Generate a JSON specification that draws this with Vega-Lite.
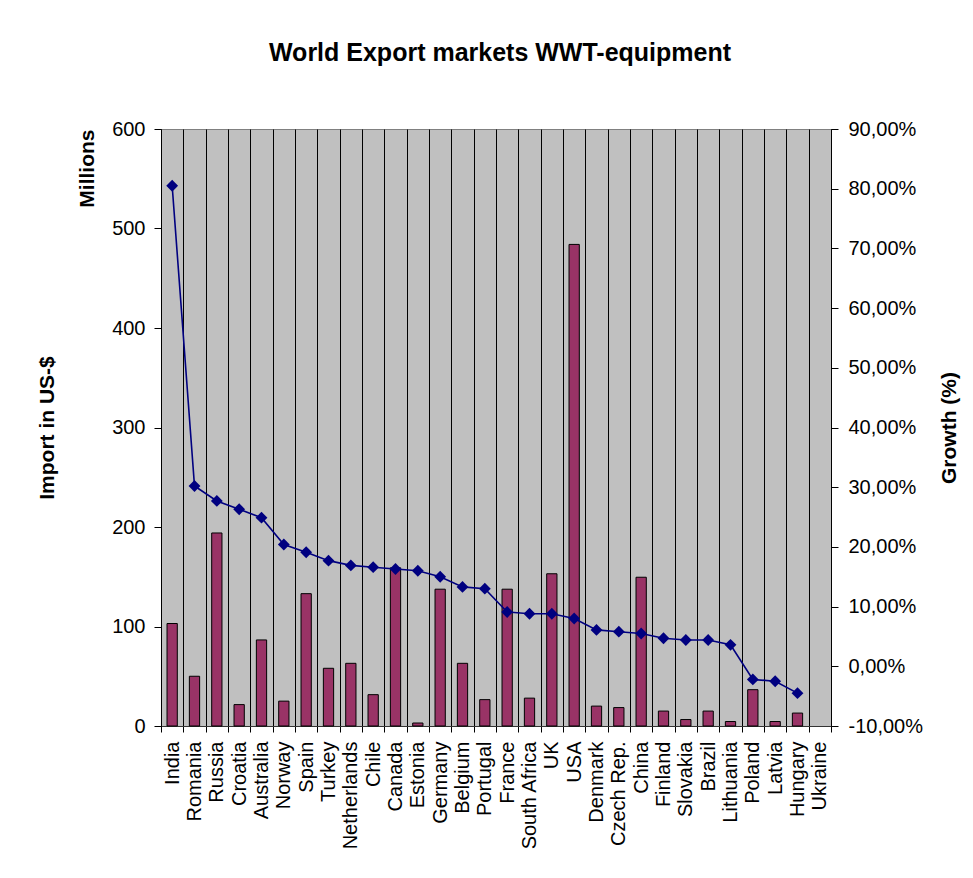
{
  "$schema": "https://vega.github.io/schema/vega-lite/v6.json",
  "width": 670,
  "height": 597,
  "autosize": "none",
  "padding": {"left": 161, "top": 129, "right": 142, "bottom": 152},
  "background": "white",
  "title": {
    "text": "World Export markets WWT-equipment",
    "fontSize": 25,
    "fontWeight": "bold",
    "font": "Liberation Sans",
    "color": "#000000",
    "anchor": "middle",
    "frame": "group",
    "baseline": "alphabetic",
    "offset": 33,
    "dx": 4
  },
  "config": {
    "view": {"fill": "#C0C0C0", "stroke": "#808080", "strokeWidth": 1},
    "font": "Liberation Sans",
    "axis": {
      "labelFont": "Liberation Sans",
      "titleFont": "Liberation Sans",
      "labelColor": "#000000",
      "titleColor": "#000000",
      "labelFontSize": 20,
      "titleFontSize": 21,
      "titleFontWeight": "bold",
      "domainColor": "#000000",
      "tickColor": "#000000"
    }
  },
  "data": {
    "values": [
      {"country": "India", "import": 103, "growth": 80.5},
      {"country": "Romania", "import": 50, "growth": 30.2},
      {"country": "Russia", "import": 194, "growth": 27.7},
      {"country": "Croatia", "import": 21.5, "growth": 26.3},
      {"country": "Australia", "import": 86.5, "growth": 24.9},
      {"country": "Norway", "import": 25, "growth": 20.4},
      {"country": "Spain", "import": 133, "growth": 19.1},
      {"country": "Turkey", "import": 58, "growth": 17.7},
      {"country": "Netherlands", "import": 63, "growth": 16.9},
      {"country": "Chile", "import": 31.5, "growth": 16.6},
      {"country": "Canada", "import": 159, "growth": 16.3},
      {"country": "Estonia", "import": 3, "growth": 16.0},
      {"country": "Germany", "import": 137.5, "growth": 15.0},
      {"country": "Belgium", "import": 63, "growth": 13.3},
      {"country": "Portugal", "import": 26.5, "growth": 13.0},
      {"country": "France", "import": 137.5, "growth": 9.1},
      {"country": "South Africa", "import": 28, "growth": 8.8},
      {"country": "UK", "import": 153, "growth": 8.8},
      {"country": "USA", "import": 484, "growth": 8.0},
      {"country": "Denmark", "import": 20, "growth": 6.1},
      {"country": "Czech Rep.", "import": 18.5, "growth": 5.8},
      {"country": "China", "import": 149.5, "growth": 5.5},
      {"country": "Finland", "import": 15, "growth": 4.7},
      {"country": "Slovakia", "import": 6.5, "growth": 4.4},
      {"country": "Brazil", "import": 15, "growth": 4.4},
      {"country": "Lithuania", "import": 4.5, "growth": 3.6},
      {"country": "Poland", "import": 36.5, "growth": -2.2},
      {"country": "Latvia", "import": 4.5, "growth": -2.5},
      {"country": "Hungary", "import": 13, "growth": -4.5},
      {"country": "Ukraine", "import": null, "growth": null}
    ]
  },
  "encoding": {
    "x": {
      "field": "country",
      "type": "nominal",
      "sort": null,
      "scale": {
        "domain": ["India", "Romania", "Russia", "Croatia", "Australia", "Norway", "Spain", "Turkey", "Netherlands", "Chile", "Canada", "Estonia", "Germany", "Belgium", "Portugal", "France", "South Africa", "UK", "USA", "Denmark", "Czech Rep.", "China", "Finland", "Slovakia", "Brazil", "Lithuania", "Poland", "Latvia", "Hungary", "Ukraine"],
        "paddingInner": 0,
        "paddingOuter": 0
      },
      "axis": {
        "title": null,
        "labelAngle": -90,
        "labelAlign": "right",
        "labelBaseline": "middle",
        "tickBand": "extent",
        "tickSize": 6,
        "labelPadding": 9,
        "grid": true,
        "gridColor": "#000000",
        "gridOpacity": 1,
        "gridWidth": 1,
        "domainColor": "#333333"
      }
    }
  },
  "layer": [
    {
      "mark": {"type": "bar", "fill": "#993366", "stroke": "#000000", "strokeWidth": 1, "width": {"band": 0.46}},
      "encoding": {
        "y": {
          "field": "import",
          "type": "quantitative",
          "scale": {"domain": [0, 600], "nice": false},
          "axis": {
            "orient": "left",
            "values": [0, 100, 200, 300, 400, 500, 600],
            "title": "Import in US-$",
            "grid": false,
            "tickSize": 7,
            "labelPadding": 9,
            "titlePadding": 54
          }
        }
      }
    },
    {
      "mark": {
        "type": "line",
        "color": "#000080",
        "strokeWidth": 1.6,
        "point": {"shape": "diamond", "size": 140, "filled": true, "color": "#000080"}
      },
      "encoding": {
        "y": {
          "field": "growth",
          "type": "quantitative",
          "scale": {"domain": [-10, 90], "nice": false, "zero": false},
          "axis": {
            "orient": "right",
            "values": [-10, 0, 10, 20, 30, 40, 50, 60, 70, 80, 90],
            "labelExpr": "replace(replace(format(datum.value, '.2f'), '.', ','), '\u2212', '-') + '%'",
            "title": "Growth (%)",
            "titleAngle": -90,
            "titleBaseline": "top",
            "grid": false,
            "tickSize": 7,
            "labelPadding": 10,
            "titlePadding": 16
          }
        }
      }
    },
    {
      "mark": {"type": "bar", "opacity": 0},
      "encoding": {
        "y": {
          "field": "import",
          "type": "quantitative",
          "scale": {"domain": [0, 600], "nice": false},
          "axis": {
            "orient": "left",
            "title": "Millions",
            "titleAnchor": "end",
            "labels": false,
            "ticks": false,
            "domain": false,
            "grid": false,
            "titlePadding": 64
          }
        }
      }
    }
  ],
  "resolve": {"scale": {"y": "independent"}, "axis": {"y": "independent"}}
}
